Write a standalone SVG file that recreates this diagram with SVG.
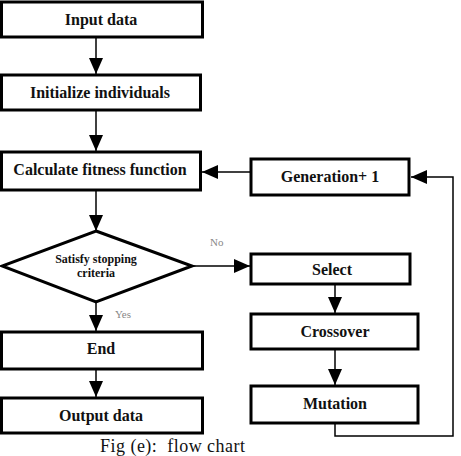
<svg xmlns="http://www.w3.org/2000/svg" width="461" height="456" viewBox="0 0 461 456">
<style>
.box{fill:#fff;stroke:#000;stroke-width:3}
.t{font-family:"Liberation Serif",serif;font-weight:bold;font-size:16px;text-anchor:middle;fill:#111}
.s{font-family:"Liberation Serif",serif;font-weight:bold;font-size:12px;text-anchor:middle;fill:#111}
.lbl{font-family:"Liberation Serif",serif;font-size:11px;fill:#888}
.c{fill:none;stroke:#000;stroke-width:1.5}
</style>
<defs>
<marker id="ah" viewBox="0 0 16 14" refX="16" refY="7" markerWidth="16" markerHeight="14" markerUnits="userSpaceOnUse" orient="auto">
<path d="M0,0 L16,7 L0,14 Z" fill="#000"/>
</marker>
</defs>
<g id="connectors">
<line class="c" x1="96" y1="37" x2="96" y2="74" marker-end="url(#ah)"/>
<line class="c" x1="96" y1="110" x2="96" y2="151" marker-end="url(#ah)"/>
<line class="c" x1="96" y1="190" x2="96" y2="231" marker-end="url(#ah)"/>
<line class="c" x1="250" y1="172" x2="202" y2="172" marker-end="url(#ah)"/>
<line class="c" x1="192" y1="266" x2="250" y2="266" marker-end="url(#ah)"/>
<line class="c" x1="96" y1="302" x2="96" y2="331" marker-end="url(#ah)"/>
<line class="c" x1="96" y1="362" x2="96" y2="397" marker-end="url(#ah)"/>
<line class="c" x1="335" y1="279" x2="335" y2="313" marker-end="url(#ah)"/>
<line class="c" x1="335" y1="349" x2="335" y2="385" marker-end="url(#ah)"/>
<polyline class="c" points="335,423 335,436 453,436 453,177 411,177" marker-end="url(#ah)"/>
<text class="lbl" x="210" y="246">No</text>
<text class="lbl" x="115" y="318">Yes</text>
</g>
<g id="input"><rect class="box" x="1.5" y="2" width="201" height="35"/><text class="t" x="101" y="25">Input data</text></g>
<g id="init"><rect class="box" x="1.5" y="75" width="199" height="35"/><text class="t" x="100" y="98">Initialize individuals</text></g>
<g id="calc"><rect class="box" x="1.5" y="152" width="199" height="38"/><text class="t" x="100" y="175">Calculate fitness function</text></g>
<g id="gen"><rect class="box" x="251" y="159" width="158" height="36"/><text class="t" x="330" y="182">Generation+ 1</text></g>
<g id="decision"><polygon class="box" points="96,231 192,266 96,302 2,266"/><text class="s" x="96" y="263">Satisfy stopping</text><text class="s" x="96" y="277">criteria</text></g>
<g id="select"><rect class="box" x="251" y="254" width="159" height="30"/><text class="t" x="332" y="275">Select</text></g>
<g id="crossover"><rect class="box" x="251" y="314" width="167" height="35"/><text class="t" x="335" y="337">Crossover</text></g>
<g id="mutation"><rect class="box" x="251" y="386" width="167" height="37"/><text class="t" x="335" y="409">Mutation</text></g>
<g id="end"><rect class="box" x="1.5" y="332" width="201" height="37"/><text class="t" x="101" y="354">End</text></g>
<g id="output"><rect class="box" x="1.5" y="398" width="201" height="35"/><text class="t" x="101" y="421">Output data</text></g>
<text x="100" y="452" xml:space="preserve" font-family="Liberation Serif, serif" font-size="18" textLength="145" fill="#111">Fig (e):  flow chart</text>
</svg>
